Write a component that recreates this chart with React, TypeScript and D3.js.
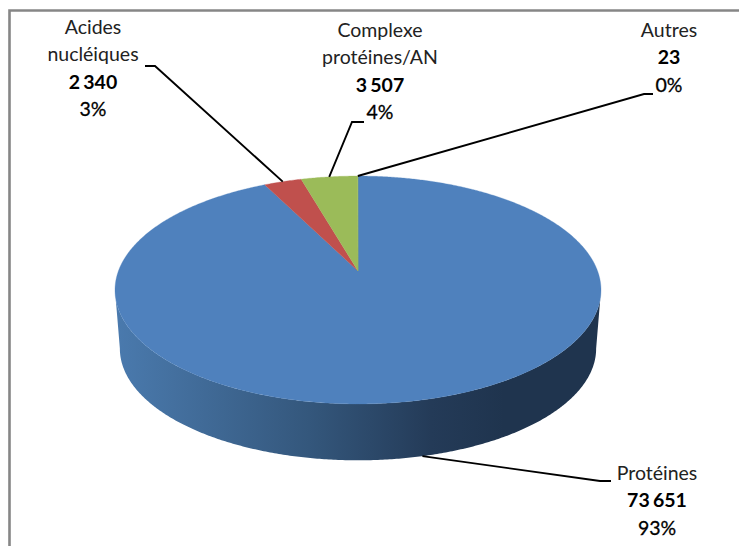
import React from "react";
import * as d3 from "d3";

const categories = ["Protéines", "Acides nucléiques", "Complexe protéines/AN", "Autres"];
const values = [73651, 2340, 3507, 23];
const valueLabels = ["73 651", "2 340", "3 507", "23"];
const percentLabels = ["93%", "3%", "4%", "0%"];
const colors = ["#4f81bd", "#c0504d", "#9bbb59", "#9bbb59"];
const nameLines = [["Protéines"], ["Acides", "nucléiques"], ["Complexe", "protéines/AN"], ["Autres"]];
const labelCenters = [[657, 474], [93, 28], [380, 31], [669, 31]];
const elbows = [
  [[600, 481], [611, 481]],
  [[155, 66], [145, 66]],
  [[352, 122], [364, 122]],
  [[644, 94], [653, 94]],
];
const sideStops: [number, string][] = [
  [0, "#4a7aae"],
  [0.12, "#44709f"],
  [0.4, "#34577c"],
  [0.65, "#243b58"],
  [0.8, "#1f344e"],
  [1, "#1f344e"],
];

const W = 739, H = 546;
const cx = 358, apexY = 271, k = 1 / 6, halfW = 239.6, halfH = 110.8;
const rimY = 330, rimScale = 0.98;

type Pt = [number, number];
const project = (theta: number, y0 = apexY, s = 1): Pt => {
  const u = Math.sin(theta), v = Math.cos(theta);
  const d = 1 + k * v;
  return [cx + (s * halfW * u) / d, y0 - (s * halfH * v) / d];
};
const line = d3.line<Pt>().curve(d3.curveLinear);
const arcPts = (a: number, b: number, y0 = apexY, s = 1): Pt[] => {
  const n = Math.max(2, Math.ceil(Math.abs(b - a) * 120));
  return d3.range(n + 1).map((i) => project(a + ((b - a) * i) / n, y0, s));
};

export default function App() {
  const arcs = d3.pie<number>().sort(null).startAngle(0).endAngle(2 * Math.PI)(values);
  const leftT = 2 * Math.PI - Math.acos(-k);
  const rightT = Math.acos(-k);
  const side = [...arcPts(rightT, leftT), ...arcPts(leftT, rightT, rimY, rimScale)];
  return (
    <svg width={W} height={H} viewBox={`0 0 ${W} ${H}`} style={{ position: "absolute", left: 0, top: 0, background: "#fff" }}>
      <defs>
        <linearGradient id="side" gradientUnits="userSpaceOnUse" x1={cx - halfW - 4} x2={cx + halfW + 4} y1={0} y2={0}>
          {sideStops.map(([o, c]) => <stop key={o} offset={o} stopColor={c} />)}
        </linearGradient>
      </defs>
      <path d={`M${W + 5},10.5 H9.5 V${H + 5}`} fill="none" stroke="#868686" strokeWidth={2.6} />
      <path d={line(side)! + "Z"} fill="url(#side)" />
      {arcs.map((a, i) => (
        <path
          key={i}
          d={line([[cx, apexY] as Pt, ...arcPts(a.startAngle, a.endAngle)])! + "Z"}
          fill={colors[i]}
          stroke={colors[i]}
          strokeWidth={0.3}
        />
      ))}
      {arcs.map((a, i) => {
        const mid = (a.startAngle + a.endAngle) / 2;
        const front = Math.cos(mid) < 0;
        const start = front ? project(mid, rimY, rimScale) : project(mid);
        return (
          <path key={i} d={line([start, ...(elbows[i] as Pt[])])!} fill="none" stroke="#000" strokeWidth={1.9} />
        );
      })}
      <g fontFamily="Lato, Carlito, sans-serif" fontSize={19.5} fill="#000" textAnchor="middle">
        {categories.map((c, i) => {
          const [x, y] = labelCenters[i];
          const names = nameLines[i];
          const step = 27.3;
          return (
            <text key={c} x={x} y={y + 6}>
              {names.map((n, j) => (
                <tspan key={j} x={x} dy={j === 0 ? 0 : step} fill="#222">{n}</tspan>
              ))}
              <tspan x={x} dy={step} fontWeight={700} wordSpacing={-1.5}>{valueLabels[i]}</tspan>
              <tspan x={x} dy={step} stroke="#000" strokeWidth={0.3}>{percentLabels[i]}</tspan>
            </text>
          );
        })}
      </g>
    </svg>
  );
}
